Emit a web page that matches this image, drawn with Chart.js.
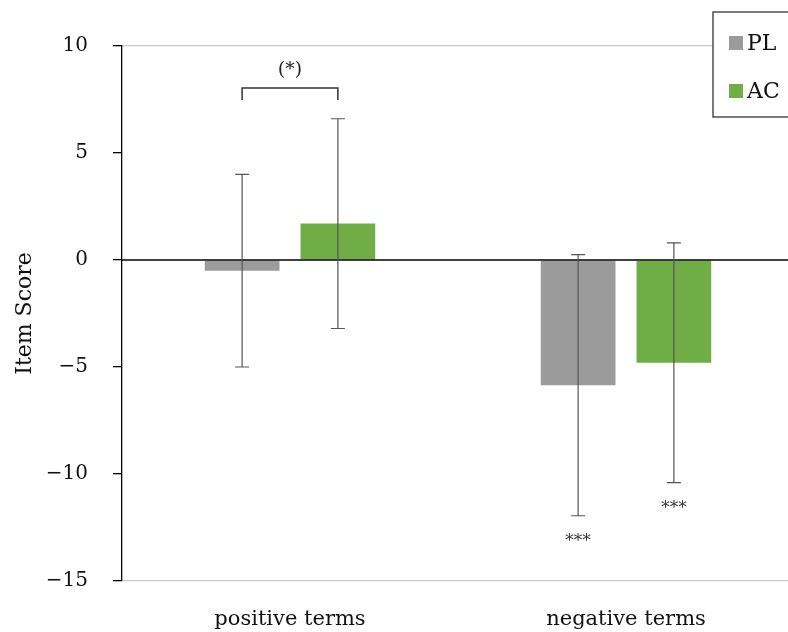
<!DOCTYPE html>
<html>
<head>
<meta charset="utf-8">
<script src="https://cdn.jsdelivr.net/npm/chart.js@4.4.0/dist/chart.umd.min.js"></script>
<style>
  html, body { margin: 0; padding: 0; background: #fff; overflow: hidden; }
  #wrap { width: 800px; height: 632px; }
</style>
</head>
<body>
<div id="wrap"><canvas id="barChart"></canvas></div>
<script>
const categories = ['positive terms', 'negative terms'];
const seriesNames = ['PL', 'AC'];
const plValues = [-0.5, -5.85];
const acValues = [1.7, -4.8];
const plErrors = [4.5, 6.1];
const acErrors = [4.9, 5.6];
const plStars = ['', '***'];
const acStars = ['', '***'];
const yTicks = [10, 5, 0, -5, -10, -15];

const serif = '"DejaVu Serif", "Liberation Serif", serif';

// error bars, zero line, significance marks and the boxed legend
const extras = {
    id: 'extras',
    afterDatasetsDraw(chart) {
        const ctx = chart.ctx;
        const y = chart.scales.y;
        const area = chart.chartArea;
        const errs = [plErrors, acErrors];
        const stars = [plStars, acStars];

        ctx.save();
        // zero line
        ctx.strokeStyle = '#000';
        ctx.lineWidth = 1.3;
        ctx.beginPath();
        ctx.moveTo(area.left, y.getPixelForValue(0));
        ctx.lineTo(area.right, y.getPixelForValue(0));
        ctx.stroke();

        chart.data.datasets.forEach(function(ds, di) {
            const meta = chart.getDatasetMeta(di);
            meta.data.forEach(function(bar, i) {
                const v = ds.data[i];
                const e = errs[di][i];
                const top = y.getPixelForValue(v + e);
                const bot = y.getPixelForValue(v - e);
                ctx.strokeStyle = '#555';
                ctx.lineWidth = 1.2;
                ctx.beginPath();
                ctx.moveTo(bar.x, top);
                ctx.lineTo(bar.x, bot);
                ctx.moveTo(bar.x - 7, top);
                ctx.lineTo(bar.x + 7, top);
                ctx.moveTo(bar.x - 7, bot);
                ctx.lineTo(bar.x + 7, bot);
                ctx.stroke();
                if (stars[di][i]) {
                    ctx.fillStyle = '#333';
                    ctx.font = '17px ' + serif;
                    ctx.textAlign = 'center';
                    ctx.textBaseline = 'middle';
                    ctx.fillText(stars[di][i], bar.x, bot + 26);
                }
            });
        });

        // bracket over positive terms
        const b0 = chart.getDatasetMeta(0).data[0];
        const b1 = chart.getDatasetMeta(1).data[0];
        ctx.strokeStyle = '#333';
        ctx.lineWidth = 1.5;
        ctx.beginPath();
        ctx.moveTo(b0.x, 100);
        ctx.lineTo(b0.x, 88);
        ctx.lineTo(b1.x, 88);
        ctx.lineTo(b1.x, 100);
        ctx.stroke();
        ctx.fillStyle = '#222';
        ctx.font = '19px ' + serif;
        ctx.textAlign = 'center';
        ctx.textBaseline = 'middle';
        ctx.fillText('(*)', (b0.x + b1.x) / 2, 70);

        // legend box
        ctx.fillStyle = '#fff';
        ctx.fillRect(713, 12, 100, 105);
        ctx.strokeStyle = '#333';
        ctx.lineWidth = 1.3;
        ctx.strokeRect(713, 12, 100, 105);
        chart.data.datasets.forEach(function(ds, di) {
            const ly = 43 + di * 48;
            ctx.fillStyle = ds.backgroundColor;
            ctx.fillRect(729, ly - 7, 14, 14);
            ctx.fillStyle = '#111';
            ctx.font = '22px ' + serif;
            ctx.textAlign = 'left';
            ctx.textBaseline = 'middle';
            ctx.fillText(ds.label, 747, ly + 1);
        });
        ctx.restore();
    }
};

new Chart(document.getElementById('barChart'), {
    type: 'bar',
    data: {
        labels: categories,
        datasets: [
            { label: seriesNames[0], data: plValues, backgroundColor: '#9b9b9b' },
            { label: seriesNames[1], data: acValues, backgroundColor: '#70ad47' }
        ]
    },
    options: {
        responsive: true,
        maintainAspectRatio: false,
        animation: false,
        devicePixelRatio: 1,
        categoryPercentage: 0.57,
        barPercentage: 0.78,
        layout: { padding: { top: 46, right: 6, bottom: 0, left: 0 } },
        plugins: {
            legend: { display: false },
            tooltip: { enabled: false }
        },
        scales: {
            x: {
                afterFit(scale) { scale.height = 51; },
                grid: { display: false },
                border: { display: false },
                ticks: {
                    color: '#111',
                    padding: 18,
                    font: { family: serif, size: 21 }
                }
            },
            y: {
                min: -15,
                max: 10,
                afterFit(scale) { scale.width = 122; },
                afterBuildTicks(scale) {
                    scale.ticks = yTicks.map(function(v) { return { value: v }; });
                },
                border: { display: true, color: '#000', width: 1.3 },
                grid: {
                    tickLength: 9,
                    tickColor: '#000',
                    color: function(c) {
                        const v = c.tick && c.tick.value;
                        return (v === 10 || v === -15) ? '#c8c8c8' : 'rgba(0,0,0,0)';
                    },
                    lineWidth: 1.3
                },
                ticks: {
                    color: '#111',
                    padding: 25,
                    font: { family: serif, size: 20 },
                    callback: function(v) { return v < 0 ? '\u2212' + Math.abs(v) : v; }
                },
                title: {
                    display: true,
                    text: 'Item Score',
                    color: '#111',
                    font: { family: serif, size: 22 },
                    padding: { top: 12, bottom: 0 }
                }
            }
        }
    },
    plugins: [extras]
});
</script>
</body>
</html>
